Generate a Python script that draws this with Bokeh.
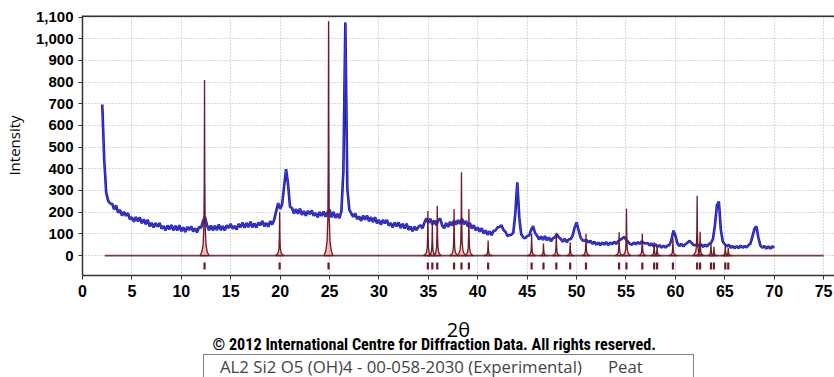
import numpy as np
from bokeh.plotting import figure
from bokeh.layouts import column
from bokeh.models import (Range1d, FixedTicker, NumeralTickFormatter, Title,
                          Legend, LegendItem, Span, ColumnDataSource)
from bokeh.embed import file_html
from bokeh.resources import INLINE

# ---------------- data ----------------
x_ticks = [0, 5, 10, 15, 20, 25, 30, 35, 40, 45, 50, 55, 60, 65, 70, 75]
y_ticks = [0, 100, 200, 300, 400, 500, 600, 700, 800, 900, 1000, 1100]

# Peat scan: start angle / step (deg 2theta) and measured intensities
peat_start = 2.0
peat_step = 0.2
peat_intensity = [
    696, 440, 290, 252, 240, 239, 213, 231, 198, 210,
    184, 202, 183, 196, 167, 177, 156, 178, 158, 176,
    149, 167, 144, 165, 135, 151, 129, 150, 134, 150,
    124, 136, 116, 139, 121, 141, 116, 137, 116, 140,
    112, 130, 109, 132, 118, 135, 111, 125, 107, 132,
    128, 160, 178, 140, 117, 139, 116, 137, 118, 143,
    117, 136, 116, 140, 127, 146, 123, 137, 120, 146,
    130, 152, 128, 150, 131, 156, 130, 148, 129, 153,
    140, 159, 135, 150, 133, 159, 143, 165, 205, 242,
    215, 236, 318, 398, 330, 225, 219, 194, 214, 193,
    216, 188, 205, 184, 206, 191, 208, 183, 196, 177,
    201, 183, 203, 179, 199, 212, 177, 201, 174, 192,
    172, 205, 390, 1075, 310, 212, 194, 178, 194, 168,
    180, 160, 184, 165, 184, 158, 177, 155, 177, 148,
    164, 142, 164, 148, 164, 138, 150, 130, 153, 134,
    153, 127, 147, 125, 147, 118, 134, 112, 133, 117,
    133, 140, 126, 152, 172, 150, 170, 144, 162, 140,
    164, 170, 138, 126, 150, 132, 156, 138, 162, 142,
    164, 146, 170, 144, 160, 134, 150, 124, 140, 116,
    130, 110, 126, 102, 116, 96, 112, 94, 114, 116,
    130, 132, 140, 118, 110, 90, 94, 96, 106, 196,
    338, 176, 98, 84, 80, 90, 92, 118, 136, 104,
    92, 74, 88, 72, 90, 70, 84, 66, 80, 84,
    98, 84, 76, 64, 78, 62, 74, 76, 92, 128,
    153, 118, 84, 70, 68, 72, 60, 68, 54, 64,
    50, 60, 48, 60, 50, 62, 48, 60, 52, 64,
    54, 66, 72, 78, 86, 74, 64, 54, 50, 60,
    52, 62, 54, 66, 58, 56, 58, 46, 56, 42,
    52, 40, 48, 36, 46, 36, 46, 48, 72, 115,
    92, 56, 44, 54, 42, 52, 58, 68, 60, 50,
    48, 50, 44, 52, 40, 50, 42, 54, 58, 76,
    140, 232, 249, 118, 64, 52, 42, 50, 36, 44,
    34, 44, 34, 46, 36, 44, 38, 48, 56, 88,
    124, 134, 82, 46, 36, 44, 32, 42, 32, 42,
    36,
]

# Reference pattern AL2 Si2 O5 (OH)4 - 00-058-2030: peak positions / heights
ref_pos = [12.35, 19.95, 24.9, 34.95, 35.4, 35.9, 37.6, 38.35, 39.1, 41.05,
           45.45, 46.65, 47.95, 49.35, 50.95, 54.3, 55.05, 56.65, 57.85, 58.15,
           59.75, 62.2, 62.5, 63.6, 63.9, 65.05, 65.35]
ref_height = [810, 200, 1080, 205, 150, 230, 215, 384, 215, 69,
              100, 55, 105, 61, 100, 107, 216, 100, 61, 45,
              80, 276, 110, 57, 40, 46, 35]
ref_span = [2.25, 75.0]

series_labels = ["AL2 Si2 O5 (OH)4 - 00-058-2030 (Experimental)", "Peat"]
REF_COLOR = "#7a3a42"
PEAT_COLOR = "#1e1a8c"

# ---------------- main figure ----------------
p = figure(width=834, height=354, output_backend="svg", toolbar_location=None,
           x_range=Range1d(0, 76.1), y_range=Range1d(-92, 1107),
           min_border_left=81, min_border_right=0, min_border_top=15,
           min_border_bottom=79, background_fill_color="white",
           border_fill_color="white")
p.frame_align = False
p.outline_line_color = None

for g in (p.xgrid, p.ygrid):
    g.grid_line_color = "#b0b0b0"
    g.grid_line_dash = "1 2"
    g.grid_line_width = 1
p.xgrid.ticker = FixedTicker(ticks=x_ticks)
p.ygrid.ticker = FixedTicker(ticks=y_ticks)

p.xaxis.ticker = FixedTicker(ticks=x_ticks)
p.yaxis.ticker = FixedTicker(ticks=y_ticks)
p.yaxis.formatter = NumeralTickFormatter(format="0,0")
for ax in (p.xaxis, p.yaxis):
    ax.axis_line_color = "#333333"
    ax.axis_line_width = 1.5
    ax.major_tick_line_color = "#333333"
    ax.major_tick_out = 4
    ax.major_tick_in = 0
    ax.minor_tick_line_color = None
    ax.major_label_text_font = "Liberation Sans"
    ax.major_label_text_font_style = "bold"
    ax.major_label_text_color = "black"
p.yaxis.major_label_text_font_size = "15px"
p.xaxis.major_label_text_font_size = "16px"
p.yaxis.major_label_standoff = 5
p.xaxis.major_label_standoff = 5

p.xaxis.axis_label = "2θ"
p.xaxis.axis_label_text_font = "Open Sans"
p.xaxis.axis_label_text_font_size = "20px"
p.xaxis.axis_label_text_font_style = "normal"
p.xaxis.axis_label_text_color = "black"
p.xaxis.axis_label_text_line_height = 1.0
p.xaxis.axis_label_standoff = 16

p.yaxis.axis_label = "Intensity"
p.yaxis.axis_label_text_font = "Open Sans"
p.yaxis.axis_label_text_font_size = "15px"
p.yaxis.axis_label_text_font_style = "normal"
p.yaxis.axis_label_text_color = "black"
p.yaxis.axis_label_standoff = 9

p.add_layout(Span(location=1105, dimension="width", line_color="#333333",
                  line_width=2))

# Peat scan
peat_y = np.array(peat_intensity, dtype=float)
peat_x = peat_start + peat_step * np.arange(len(peat_y))
peat_src = ColumnDataSource(dict(x=peat_x, y=peat_y))
p.line("x", "y", source=peat_src, line_color=PEAT_COLOR, line_width=2.6)
p.line("x", "y", source=peat_src, line_color="#3a3af5", line_width=1.1)

# reference pattern
p.line(ref_span, [0, 0], line_color=REF_COLOR, line_width=1.8)
prof_dx = [-0.45, -0.28, -0.15, -0.07, -0.03, 0.0, 0.03, 0.07, 0.15, 0.28, 0.45]
prof_f = [0.0, 0.02, 0.06, 0.16, 0.42, 1.0, 0.42, 0.16, 0.06, 0.02, 0.0]
xs, ys = [], []
for pos, h in zip(ref_pos, ref_height):
    xs.append([pos + d for d in prof_dx])
    ys.append([h * f for f in prof_f])
p.patches(xs, ys, fill_color="#d84040", fill_alpha=0.35, line_color="#6b1c28",
          line_width=1.3)
p.segment(x0=ref_pos, y0=[-32] * len(ref_pos), x1=ref_pos, y1=[-64] * len(ref_pos),
          line_color="#6b1c28", line_width=2.2)

# copyright line under the axis title
p.add_layout(Title(text="© 2012 International Centre for Diffraction Data. All rights reserved.",
                   align="left", offset=130, standoff=-21, vertical_align="top",
                   text_font="Roboto Condensed", text_font_style="bold",
                   text_font_size="16.2px", text_line_height=1.0,
                   text_color="black"), "below")

# ---------------- legend strip ----------------
p2 = figure(width=834, height=23, output_backend="svg", toolbar_location=None,
            x_axis_location=None, y_axis_location=None,
            min_border_left=203, min_border_right=0, min_border_top=0,
            min_border_bottom=0, background_fill_color="white",
            border_fill_color="white")
p2.frame_align = False
p2.outline_line_color = None
p2.grid.visible = False
r_ref = p2.line([], [], line_color=REF_COLOR, line_width=1.8)
r_peat = p2.line([], [], line_color=PEAT_COLOR, line_width=1.8)

legend = Legend(items=[
    LegendItem(label=series_labels[0], renderers=[r_ref]),
    LegendItem(label=series_labels[1], renderers=[r_peat]),
], orientation="horizontal", location="top_left")
legend.border_line_color = "black"
legend.border_line_width = 1.5
legend.background_fill_alpha = 1
legend.label_text_font = "Open Sans"
legend.label_text_font_size = "16.8px"
legend.label_text_line_height = 1.0
legend.glyph_width = 12
legend.glyph_height = 16
legend.label_height = 16
legend.label_standoff = 4
legend.spacing = 10
legend.padding = 0
legend.margin = 0
legend.label_width = 85
p2.add_layout(legend)

layout = column(p, p2, spacing=0)
open("out.html", "w").write(file_html(layout, INLINE))
